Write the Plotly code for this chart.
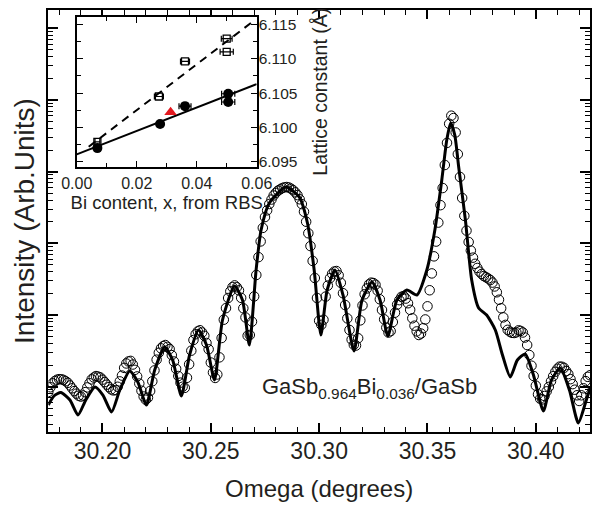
import numpy as np
import plotly.graph_objects as go

# ---------------- main panel data (omega in degrees, log10 intensity) ----------------
exp_omega = [
    30.175, 30.176, 30.177, 30.178, 30.179, 30.180, 30.181, 30.182, 30.183, 30.184,
    30.185, 30.186, 30.187, 30.188, 30.189, 30.190, 30.191, 30.192, 30.193, 30.194,
    30.195, 30.196, 30.197, 30.198, 30.199, 30.200, 30.201, 30.202, 30.203, 30.204,
    30.205, 30.206, 30.207, 30.208, 30.209, 30.210, 30.211, 30.212, 30.213, 30.214,
    30.215, 30.216, 30.217, 30.218, 30.219, 30.220, 30.221, 30.222, 30.223, 30.224,
    30.225, 30.226, 30.227, 30.228, 30.229, 30.230, 30.231, 30.232, 30.233, 30.234,
    30.235, 30.236, 30.237, 30.238, 30.239, 30.240, 30.241, 30.242, 30.243, 30.244,
    30.245, 30.246, 30.247, 30.248, 30.249, 30.250, 30.251, 30.252, 30.253, 30.254,
    30.255, 30.256, 30.257, 30.258, 30.259, 30.260, 30.261, 30.262, 30.263, 30.264,
    30.265, 30.266, 30.267, 30.268, 30.269, 30.270, 30.271, 30.272, 30.273, 30.274,
    30.275, 30.276, 30.277, 30.278, 30.279, 30.280, 30.281, 30.282, 30.283, 30.284,
    30.285, 30.286, 30.287, 30.288, 30.289, 30.290, 30.291, 30.292, 30.293, 30.294,
    30.295, 30.296, 30.297, 30.298, 30.299, 30.300, 30.301, 30.302, 30.303, 30.304,
    30.305, 30.306, 30.307, 30.308, 30.309, 30.310, 30.311, 30.312, 30.313, 30.314,
    30.315, 30.316, 30.317, 30.318, 30.319, 30.320, 30.321, 30.322, 30.323, 30.324,
    30.325, 30.326, 30.327, 30.328, 30.329, 30.330, 30.331, 30.332, 30.333, 30.334,
    30.335, 30.336, 30.337, 30.338, 30.339, 30.340, 30.341, 30.342, 30.343, 30.344,
    30.345, 30.346, 30.347, 30.348, 30.349, 30.350, 30.351, 30.352, 30.353, 30.354,
    30.355, 30.356, 30.357, 30.358, 30.359, 30.360, 30.361, 30.362, 30.363, 30.364,
    30.365, 30.366, 30.367, 30.368, 30.369, 30.370, 30.371, 30.372, 30.373, 30.374,
    30.375, 30.376, 30.377, 30.378, 30.379, 30.380, 30.381, 30.382, 30.383, 30.384,
    30.385, 30.386, 30.387, 30.388, 30.389, 30.390, 30.391, 30.392, 30.393, 30.394,
    30.395, 30.396, 30.397, 30.398, 30.399, 30.400, 30.401, 30.402, 30.403, 30.404,
    30.405, 30.406, 30.407, 30.408, 30.409, 30.410, 30.411, 30.412, 30.413, 30.414,
    30.415, 30.416, 30.417, 30.418, 30.419, 30.420, 30.421, 30.422, 30.423, 30.424,
    30.425,
]
exp_log_intensity = [
    0.926, 0.992, 1.047, 1.078, 1.097, 1.105, 1.103, 1.095, 1.076, 1.054,
    1.017, 0.977, 0.939, 0.903, 0.874, 0.862, 0.878, 0.924, 0.990, 1.048,
    1.102, 1.128, 1.148, 1.140, 1.129, 1.098, 1.064, 1.028, 0.994, 0.963,
    0.948, 0.952, 0.999, 1.074, 1.155, 1.262, 1.324, 1.352, 1.360, 1.309,
    1.235, 1.143, 1.044, 0.944, 0.863, 0.818, 0.847, 0.940, 1.075, 1.227,
    1.377, 1.473, 1.535, 1.565, 1.581, 1.555, 1.526, 1.440, 1.351, 1.249,
    1.149, 1.056, 1.000, 0.984, 1.124, 1.313, 1.502, 1.651, 1.731, 1.772,
    1.787, 1.756, 1.711, 1.610, 1.522, 1.337, 1.198, 1.122, 1.170, 1.409,
    1.679, 1.934, 2.096, 2.237, 2.330, 2.388, 2.413, 2.387, 2.343, 2.239,
    2.094, 1.966, 1.711, 1.721, 1.907, 2.259, 2.558, 2.807, 3.026, 3.215,
    3.366, 3.460, 3.548, 3.610, 3.667, 3.704, 3.734, 3.752, 3.771, 3.780,
    3.785, 3.778, 3.762, 3.740, 3.710, 3.672, 3.614, 3.547, 3.440, 3.301,
    3.140, 2.961, 2.754, 2.516, 2.237, 1.920, 1.863, 1.934, 2.257, 2.410,
    2.513, 2.575, 2.606, 2.613, 2.554, 2.449, 2.304, 2.139, 1.953, 1.791,
    1.657, 1.584, 1.574, 1.676, 1.925, 2.133, 2.289, 2.370, 2.427, 2.451,
    2.446, 2.423, 2.339, 2.219, 2.070, 1.940, 1.824, 1.755, 1.775, 1.902,
    2.032, 2.145, 2.207, 2.254, 2.264, 2.229, 2.164, 2.072, 1.954, 1.851,
    1.771, 1.721, 1.741, 1.815, 1.938, 2.121, 2.345, 2.580, 2.818, 3.024,
    3.289, 3.532, 3.771, 4.092, 4.400, 4.667, 4.780, 4.747, 4.546, 4.244,
    3.925, 3.632, 3.383, 3.177, 3.018, 2.899, 2.800, 2.714, 2.656, 2.605,
    2.572, 2.543, 2.527, 2.509, 2.487, 2.452, 2.398, 2.317, 2.213, 2.094,
    1.967, 1.862, 1.793, 1.767, 1.751, 1.749, 1.758, 1.786, 1.778, 1.756,
    1.686, 1.581, 1.442, 1.293, 1.149, 1.014, 0.894, 0.831, 0.822, 0.870,
    0.935, 0.997, 1.075, 1.146, 1.208, 1.251, 1.280, 1.278, 1.263, 1.219,
    1.176, 1.105, 1.036, 0.958, 0.880, 0.801, 0.880, 0.978, 1.078, 1.137,
    1.160,
]

sim_omega = [
    30.1750, 30.1776, 30.1808, 30.1850, 30.1887, 30.1923, 30.1965, 30.2002, 30.2042, 30.2080,
    30.2126, 30.2163, 30.2203, 30.2241, 30.2287, 30.2324, 30.2364, 30.2402, 30.2443, 30.2480,
    30.2517, 30.2554, 30.2609, 30.2646, 30.2678, 30.2709, 30.2732, 30.2770, 30.2847, 30.2908,
    30.2946, 30.2977, 30.3008, 30.3037, 30.3073, 30.3110, 30.3161, 30.3198, 30.3244, 30.3281,
    30.3317, 30.3359, 30.3405, 30.3451, 30.3497, 30.3534, 30.3566, 30.3589, 30.3607, 30.3626,
    30.3644, 30.3675, 30.3704, 30.3736, 30.3773, 30.3813, 30.3846, 30.3882, 30.3915, 30.3951,
    30.3989, 30.4035, 30.4072, 30.4113, 30.4155, 30.4196, 30.4233, 30.4251,
]
sim_log_intensity = [
    0.745, 0.870, 0.919, 0.815, 0.605, 0.815, 0.996, 0.884, 0.647, 0.954,
    1.219, 1.066, 0.745, 1.233, 1.554, 1.372, 0.870, 1.442, 1.791, 1.582,
    1.093, 1.930, 2.404, 2.209, 1.582, 2.628, 3.185, 3.562, 3.785, 3.646,
    3.283, 2.628, 1.721, 2.349, 2.628, 2.279, 1.498, 2.209, 2.460, 2.209,
    1.707, 2.209, 2.349, 2.279, 2.628, 3.185, 3.883, 4.441, 4.678, 4.510,
    4.064, 3.325, 2.488, 2.098, 2.000, 1.791, 1.442, 1.135, 1.372, 1.456,
    1.163, 0.661, 1.093, 1.261, 0.954, 0.494, 0.815, 0.982,
]

# ---------------- inset data ----------------
bi_fill_x = [0.0069, 0.0278, 0.0361, 0.0505, 0.0505]
lat_fill_y = [6.0970, 6.1005, 6.1031, 6.1049, 6.1037]
bi_fill_err = [0.0, 0.0, 0.0020, 0.0022, 0.0022]

bi_open_x = [0.0069, 0.0274, 0.0361, 0.0500, 0.0500]
lat_open_y = [6.0979, 6.1045, 6.1096, 6.1110, 6.1129]
bi_open_err = [0.0008, 0.0015, 0.0015, 0.0022, 0.0018]

bi_tri_x = [0.0313]
lat_tri_y = [6.1022]

fit_solid_x = [0.0, 0.06]
fit_solid_y = [6.0961, 6.1063]
fit_dash_x = [0.004, 0.059]
fit_dash_y = [6.0972, 6.1155]

FONT = "Liberation Sans, Arial, Helvetica, sans-serif"
W, H = 595, 507

fig = go.Figure()

fig.add_trace(go.Scatter(
    x=exp_omega, y=10 ** np.array(exp_log_intensity), mode="markers",
    marker=dict(symbol="circle-open", size=9.5, color="black", line=dict(width=1.0)),
    xaxis="x", yaxis="y", showlegend=False))
fig.add_trace(go.Scatter(
    x=sim_omega, y=10 ** np.array(sim_log_intensity), mode="lines",
    line=dict(color="black", width=3, shape="spline", smoothing=0.6),
    xaxis="x", yaxis="y", showlegend=False))

# inset traces
fig.add_trace(go.Scatter(x=fit_dash_x, y=fit_dash_y, mode="lines",
                         line=dict(color="black", width=2, dash="8px,6px"),
                         xaxis="x2", yaxis="y2", showlegend=False))
fig.add_trace(go.Scatter(x=fit_solid_x, y=fit_solid_y, mode="lines",
                         line=dict(color="black", width=2),
                         xaxis="x2", yaxis="y2", showlegend=False))
fig.add_trace(go.Scatter(x=bi_open_x, y=lat_open_y, mode="markers",
                         marker=dict(symbol="square-open", size=7, color="black", line=dict(width=1.3)),
                         error_x=dict(type="data", array=bi_open_err, color="black", thickness=1.2, width=3),
                         xaxis="x2", yaxis="y2", showlegend=False))
fig.add_trace(go.Scatter(x=bi_fill_x, y=lat_fill_y, mode="markers",
                         marker=dict(symbol="circle", size=10, color="black"),
                         error_x=dict(type="data", array=bi_fill_err, color="black", thickness=1.2, width=3),
                         xaxis="x2", yaxis="y2", showlegend=False))
fig.add_trace(go.Scatter(x=bi_tri_x, y=lat_tri_y, mode="markers",
                         marker=dict(symbol="triangle-up", size=11, color="#e3191f"),
                         xaxis="x2", yaxis="y2", showlegend=False))

x0, x1 = 48.3, 590.0
y0, y1 = 10.0, 432.0
ix0, ix1 = 76.7, 256.7
iy0, iy1 = 16.7, 166.7

fig.update_layout(
    width=W, height=H,
    margin=dict(l=0, r=0, t=0, b=0),
    paper_bgcolor="white", plot_bgcolor="white",
    font=dict(family=FONT, color="#231f20"),
    xaxis=dict(
        domain=[x0 / W, x1 / W], range=[30.175, 30.425], anchor="y",
        tick0=30.0, dtick=0.05, tickformat=".2f",
        ticks="inside", ticklen=9, tickwidth=1.5, tickcolor="black",
        minor=dict(dtick=0.01, ticks="inside", ticklen=5, tickwidth=1.3, tickcolor="black"),
        showline=True, linewidth=2, linecolor="black", mirror="allticks",
        showgrid=False, zeroline=False, automargin=False,
        tickfont=dict(size=23, family=FONT), ticklabelstandoff=-3,
        title=dict(text="Omega (degrees)", font=dict(size=24, family=FONT), standoff=18),
    ),
    yaxis=dict(
        domain=[1 - y1 / H, 1 - y0 / H], type="log", range=[0.368, 6.254], anchor="x",
        dtick=1, showticklabels=False,
        ticks="inside", ticklen=10, tickwidth=1.5, tickcolor="black",
        minor=dict(dtick="D1", ticks="inside", ticklen=5, tickwidth=1.2, tickcolor="black"),
        showline=True, linewidth=2, linecolor="black", mirror="allticks",
        showgrid=False, zeroline=False, automargin=False,
        title=dict(text="Intensity (Arb.Units)", font=dict(size=28, family=FONT), standoff=4),
    ),
    xaxis2=dict(
        domain=[ix0 / W, ix1 / W], range=[0, 0.06], anchor="y2",
        tick0=0, dtick=0.02, tickformat=".2f",
        ticks="inside", ticklen=6, tickwidth=1.3, tickcolor="black",
        minor=dict(dtick=0.01, ticks="inside", ticklen=4, tickwidth=1.1, tickcolor="black"),
        showline=True, linewidth=1.8, linecolor="black", mirror="allticks",
        showgrid=False, zeroline=False, automargin=False,
        tickfont=dict(size=16, family=FONT), ticklabelstandoff=1,
        title=dict(text="Bi content, x, from RBS", font=dict(size=18.5, family=FONT), standoff=0),
    ),
    yaxis2=dict(
        domain=[1 - iy1 / H, 1 - iy0 / H], range=[6.0943, 6.1161], anchor="x2", side="right",
        tick0=6.095, dtick=0.005, tickformat=".3f",
        ticks="inside", ticklen=6, tickwidth=1.3, tickcolor="black",
        minor=dict(dtick=0.0025, ticks="inside", ticklen=4, tickwidth=1.1, tickcolor="black"),
        showline=True, linewidth=1.8, linecolor="black", mirror="allticks",
        showgrid=False, zeroline=False, automargin=False,
        tickfont=dict(size=15.5, family=FONT), ticklabelstandoff=-3,
        title=dict(text="Lattice constant (Å)", font=dict(size=19.5, family=FONT), standoff=16),
    ),
    annotations=[dict(
        xref="paper", yref="paper", x=369 / W, y=1 - 388 / H,
        text="GaSb<sub>0.964</sub>Bi<sub>0.036</sub>/GaSb", showarrow=False,
        font=dict(size=22, family=FONT, color="#231f20"), xanchor="center", yanchor="middle",
    )],
)

fig.write_html("out.html", config={"displayModeBar": False},
               post_script="document.body.style.margin='0px';")
